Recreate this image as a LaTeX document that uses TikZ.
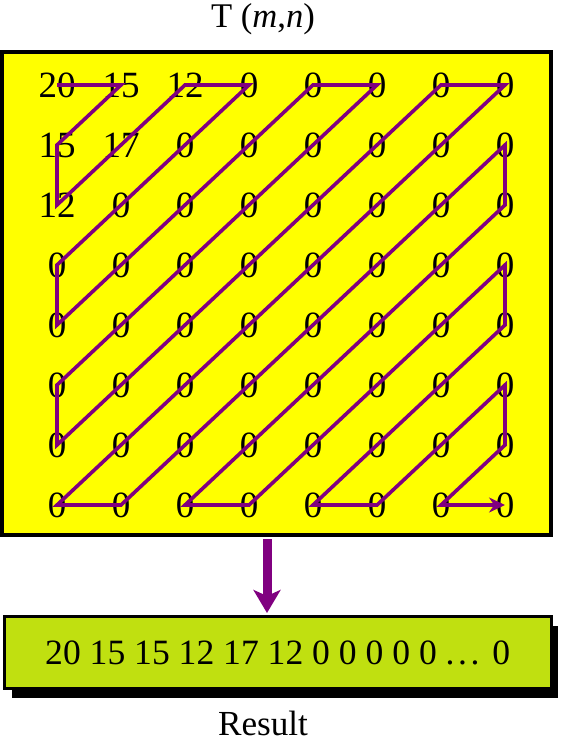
\documentclass[tikz,border=0pt]{standalone}
\usepackage{fontspec}
\setmainfont{Liberation Serif}
\usetikzlibrary{arrows.meta, shadows}
\definecolor{zigPurple}{RGB}{128,0,128}
\definecolor{matYellow}{RGB}{255,255,0}
\definecolor{resGreen}{RGB}{192,224,16}

\begin{document}
\begin{tikzpicture}[
  x=0.5pt, y=-0.5pt,
  mat box/.style={draw, line width=2pt, fill=matYellow, minimum width=274.5pt, minimum height=241.5pt, inner sep=0pt},
  res box/.style={draw, line width=1.5pt, fill=resGreen, minimum width=273.25pt, minimum height=36pt, inner sep=0pt,
    font=\fontsize{17.8}{21}\selectfont, drop shadow={fill=black, opacity=1, shadow xshift=3.5pt, shadow yshift=-4.5pt}},
  entry/.style={font=\fontsize{18.5}{22}\selectfont, inner sep=0pt},
  caption/.style={font=\fontsize{17.6}{21}\selectfont, anchor=base, inner sep=0pt},
  zig/.style={zigPurple, line width=1.8pt, -{Stealth[length=8pt, width=7.5pt]}},
  flow/.style={zigPurple, line width=4.5pt, -{Stealth[length=11.5pt, width=13.5pt, inset=3pt]}}
]
  \useasboundingbox (0,0) rectangle (562,747);

  % Matrix T(m,n)
  \node[caption, font=\fontsize{17.3}{21}\selectfont] (title) at (263,28) {T (\textit{m},\textit{n})};
  \node[mat box] (mat) at (276.5,293.5) {};
  \foreach \vals [count=\r] in {{20,15,12,0,0,0,0,0},{15,17,0,0,0,0,0,0},{12,0,0,0,0,0,0,0},{0,0,0,0,0,0,0,0},
                                {0,0,0,0,0,0,0,0},{0,0,0,0,0,0,0,0},{0,0,0,0,0,0,0,0},{0,0,0,0,0,0,0,0}}
    \foreach \v [count=\c] in \vals
      \node[entry] (c\r\c) at ({57+64*(\c-1)},{85+60*(\r-1)}) {\v};

  % Zigzag scan
  \draw[zig] (c11.center) \foreach \p in {12,21,31,13,14,41,51,15,16,61,71,17,18,81,82,28,38,83,84,48,58,85,86,68,78,87,88} { -- (c\p.center) };

  % Result
  \node[res box] (res) at (277.75,652.5) {20 15 15 12 17 12 0 0 0 0 0 .\kern1.8pt.\kern1.8pt.\ \kern2pt0};
  \node[caption] (result) at (263,735) {Result};

  \coordinate (drop) at (267,0);
  \draw[flow, shorten <=1pt, shorten >=1pt] (drop |- mat.south) -- (drop |- res.north);
\end{tikzpicture}
\end{document}
